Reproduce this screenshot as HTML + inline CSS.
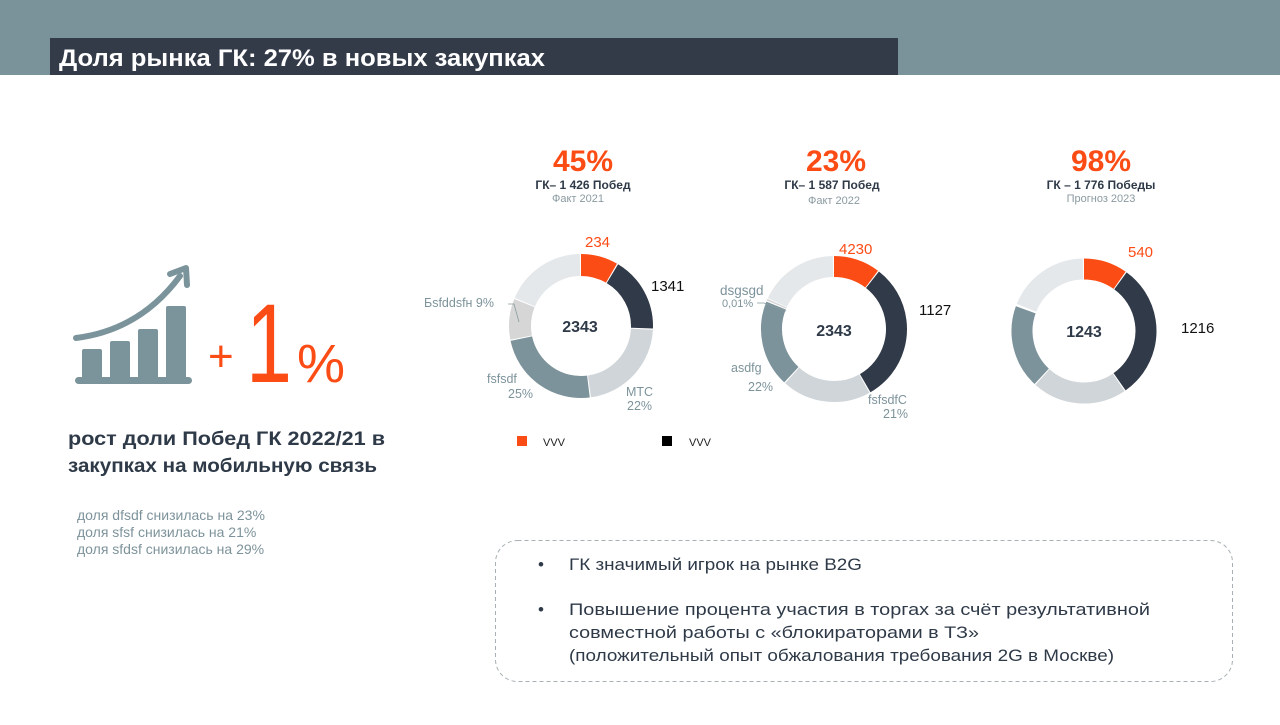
<!DOCTYPE html>
<html><head><meta charset="utf-8"><style>
body{margin:0;width:1280px;height:720px;overflow:hidden;background:#fff;font-family:"Liberation Sans","DejaVu Sans",sans-serif}
</style></head><body>
<svg width="1280" height="720" viewBox="0 0 1280 720" xmlns="http://www.w3.org/2000/svg" font-family="Liberation Sans, DejaVu Sans, sans-serif">
<rect x="0" y="0" width="1280" height="75" fill="#7a939a"/>
<rect x="50" y="38" width="848" height="37" fill="#333b49"/>
<text x="59" y="66" fill="#fff" font-size="24" font-weight="bold" textLength="486" lengthAdjust="spacingAndGlyphs">Доля рынка ГК: 27% в новых закупках</text>

<g text-anchor="middle">
<text x="583" y="171" fill="#fc4c15" font-size="30" font-weight="bold">45%</text>
<text x="583" y="189" fill="#2f3a48" font-size="12" font-weight="bold">ГК– 1 426 Побед</text>
<text x="578" y="202" fill="#8a9aa0" font-size="11">Факт 2021</text>
<text x="836" y="171" fill="#fc4c15" font-size="30" font-weight="bold">23%</text>
<text x="832" y="189" fill="#2f3a48" font-size="12" font-weight="bold">ГК– 1 587 Побед</text>
<text x="834" y="204" fill="#8a9aa0" font-size="11">Факт 2022</text>
<text x="1101" y="171" fill="#fc4c15" font-size="30" font-weight="bold">98%</text>
<text x="1101" y="189" fill="#2f3a48" font-size="12" font-weight="bold">ГК – 1 776 Победы</text>
<text x="1101" y="202" fill="#8a9aa0" font-size="11">Прогноз 2023</text>
</g>

<g fill="none" stroke-width="22">
<circle cx="581" cy="326" r="61" stroke="#fc4c15" stroke-dasharray="31.9 400" transform="rotate(-90 581 326)"/>
<circle cx="581" cy="326" r="61" stroke="#313a48" stroke-dasharray="64.9 400" transform="rotate(-59 581 326)"/>
<circle cx="581" cy="326" r="61" stroke="#cfd5d8" stroke-dasharray="84.1 400" transform="rotate(3 581 326)"/>
<circle cx="581" cy="326" r="61" stroke="#7d939b" stroke-dasharray="90.5 400" transform="rotate(83 581 326)"/>
<circle cx="581" cy="326" r="61" stroke="#d6d6d6" stroke-dasharray="35.1 400" transform="rotate(169 581 326)"/>
<circle cx="581" cy="326" r="61" stroke="#e5e8ea" stroke-dasharray="70.3 400" transform="rotate(203 581 326)"/>
</g>
<g fill="none" stroke-width="21">
<circle cx="834" cy="329" r="62.5" stroke="#fc4c15" stroke-dasharray="40.4 400" transform="rotate(-90 834 329)"/>
<circle cx="834" cy="329" r="62.5" stroke="#313a48" stroke-dasharray="122.2 400" transform="rotate(-52 834 329)"/>
<circle cx="834" cy="329" r="62.5" stroke="#cfd5d8" stroke-dasharray="77.4 400" transform="rotate(61 834 329)"/>
<circle cx="834" cy="329" r="62.5" stroke="#7d939b" stroke-dasharray="75.3 400" transform="rotate(133 834 329)"/>
<circle cx="834" cy="329" r="62.5" stroke="#d6d6d6" stroke-dasharray="1.5 400" transform="rotate(203 834 329)"/>
<circle cx="834" cy="329" r="62.5" stroke="#e5e8ea" stroke-dasharray="69.8 400" transform="rotate(205 834 329)"/>
</g>
<g fill="none" stroke-width="21">
<circle cx="1084" cy="331" r="62" stroke="#fc4c15" stroke-dasharray="37.9 400" transform="rotate(-90 1084 331)"/>
<circle cx="1084" cy="331" r="62" stroke="#313a48" stroke-dasharray="117.9 400" transform="rotate(-54 1084 331)"/>
<circle cx="1084" cy="331" r="62" stroke="#cfd5d8" stroke-dasharray="82.2 400" transform="rotate(56 1084 331)"/>
<circle cx="1084" cy="331" r="62" stroke="#7d939b" stroke-dasharray="72.5 400" transform="rotate(133 1084 331)"/>
<circle cx="1084" cy="331" r="62" stroke="#e5e8ea" stroke-dasharray="72.5 400" transform="rotate(202 1084 331)"/>
</g>

<g font-size="15">
<text x="585" y="247" fill="#fc4c15">234</text>
<text x="651" y="291" fill="#111">1341</text>
<text x="839" y="254" fill="#fc4c15">4230</text>
<text x="919" y="315" fill="#111">1127</text>
<text x="1128" y="257" fill="#fc4c15">540</text>
<text x="1181" y="333" fill="#111">1216</text>
</g>
<g font-size="16" font-weight="bold" fill="#2f3a48" text-anchor="middle">
<text x="580" y="332">2343</text>
<text x="834" y="336">2343</text>
<text x="1084" y="337">1243</text>
</g>
<g font-size="12.5" fill="#7d939b">
<text x="424" y="307">Бsfddsfн  9%</text>
<text x="487" y="383">fsfsdf</text>
<text x="508" y="398">25%</text>
<text x="626" y="396">МТС</text>
<text x="627" y="410">22%</text>
<text x="720" y="295" font-size="13.5">dsgsgd</text>
<text x="722" y="307" font-size="11">0,01%</text>
<text x="731" y="372">asdfg</text>
<text x="748" y="391">22%</text>
<text x="868" y="404">fsfsdfC</text>
<text x="883" y="418">21%</text>
</g>
<path d="M508 304 L514 304 L519 322" stroke="#8a9aa0" fill="none" stroke-width="0.8"/>
<path d="M757 303 L764 303 L786 311" stroke="#8a9aa0" fill="none" stroke-width="0.8"/>

<rect x="517" y="436" width="10" height="10" fill="#fc4c15"/>
<text x="543" y="446" font-size="11" fill="#222">VVV</text>
<rect x="662" y="436" width="10" height="10" fill="#000"/>
<text x="689" y="446" font-size="11" fill="#222">VVV</text>

<g fill="#7b949b">
<rect x="82" y="349" width="20" height="32" rx="2"/>
<rect x="110" y="341" width="20" height="40" rx="2"/>
<rect x="138" y="329" width="20" height="52" rx="2"/>
<rect x="166" y="306" width="20" height="75" rx="2"/>
<rect x="75" y="377" width="117" height="7" rx="3.5"/>
</g>
<path d="M76 338 Q140 330 180 276" stroke="#7b949b" stroke-width="6" fill="none" stroke-linecap="round"/>
<path d="M170 274 L186 268 L187 285" stroke="#7b949b" stroke-width="6" fill="none" stroke-linecap="round" stroke-linejoin="round"/>
<text x="208" y="371" font-size="44" fill="#fc4c15">+</text>
<text x="246" y="382" font-size="112" fill="#fc4c15" textLength="46" lengthAdjust="spacingAndGlyphs">1</text>
<text x="297" y="382" font-size="54" fill="#fc4c15">%</text>

<g font-size="19" font-weight="bold" fill="#2f3a48">
<text x="68" y="445" textLength="317" lengthAdjust="spacingAndGlyphs">рост доли Побед ГК 2022/21 в</text>
<text x="68" y="472" textLength="309" lengthAdjust="spacingAndGlyphs">закупках на мобильную связь</text>
</g>
<g font-size="14" fill="#7d939b">
<text x="77" y="520">доля dfsdf снизилась на 23%</text>
<text x="77" y="537">доля sfsf снизилась на 21%</text>
<text x="77" y="554">доля sfdsf снизилась на 29%</text>
</g>

<rect x="495.5" y="540.5" width="737" height="141" rx="22" fill="none" stroke="#a8b0b4" stroke-dasharray="4 3"/>
<g font-size="17" fill="#2f3a48">
<text x="538" y="570">•</text>
<text x="569" y="570" textLength="293" lengthAdjust="spacingAndGlyphs">ГК значимый игрок на рынке B2G</text>
<text x="538" y="615">•</text>
<text x="569" y="615" textLength="581" lengthAdjust="spacingAndGlyphs">Повышение процента участия в торгах за счёт результативной</text>
<text x="569" y="638" textLength="410" lengthAdjust="spacingAndGlyphs">совместной работы с «блокираторами в ТЗ»</text>
<text x="569" y="661" textLength="545" lengthAdjust="spacingAndGlyphs">(положительный опыт обжалования требования 2G в Москве)</text>
</g>
</svg>
</body></html>
